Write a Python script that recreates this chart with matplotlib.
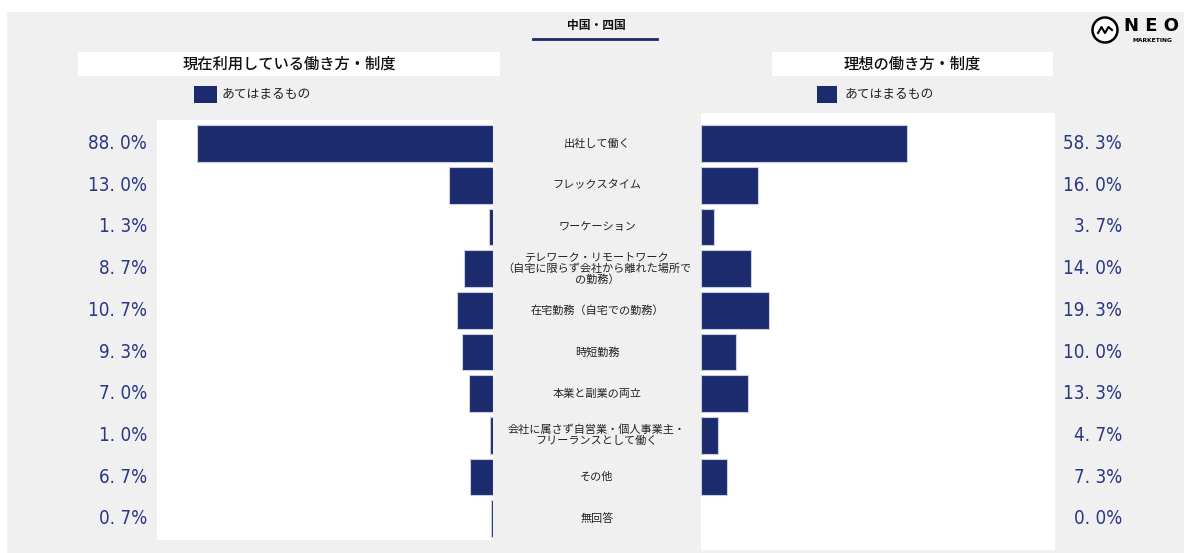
import matplotlib
matplotlib.use("Agg")
import matplotlib.pyplot as plt
import matplotlib.transforms as mtransforms
from matplotlib.patches import Rectangle, Circle
from matplotlib.lines import Line2D

plt.rcParams['font.family'] = ['Noto Sans CJK JP', 'DejaVu Sans']

##### DATA #####
categories = [
    "出社して働く",
    "フレックスタイム",
    "ワーケーション",
    "テレワーク・リモートワーク\n（自宅に限らず会社から離れた場所で\nの勤務）",
    "在宅勤務（自宅での勤務）",
    "時短勤務",
    "本業と副業の両立",
    "会社に属さず自営業・個人事業主・\nフリーランスとして働く",
    "その他",
    "無回答",
]
current_vals = [88.0, 13.0, 1.3, 8.7, 10.7, 9.3, 7.0, 1.0, 6.7, 0.7]
ideal_vals = [58.3, 16.0, 3.7, 14.0, 19.3, 10.0, 13.3, 4.7, 7.3, 0.0]

title = "中国・四国"
left_header = "現在利用している働き方・制度"
right_header = "理想の働き方・制度"
legend_label = "あてはまるもの"

navy = "#1c2a6e"
label_navy = "#2b3784"
bg = "#f0f0f0"

W, H = 1184, 553
fig = plt.figure(figsize=(W / 100, H / 100), dpi=100, facecolor='white')


def fx(px):
    return px / W


def fy(py):
    return 1 - py / H


def box(x0, y0, x1, y1, z=0, **kw):
    fig.patches.append(Rectangle((fx(x0), fy(y1)), fx(x1) - fx(x0), fy(y0) - fy(y1),
                                 transform=fig.transFigure, figure=fig, zorder=z, **kw))


# gray background panel
box(7, 12, W, H, z=-5, facecolor=bg, edgecolor='none')

# left / right plot areas
pitch = 41.7
c0 = 143.5
axl = fig.add_axes([fx(157), fy(540), fx(493) - fx(157), fy(120) - fy(540)], zorder=2)
axr = fig.add_axes([fx(701), fy(550), fx(1055) - fx(701), fy(113) - fy(550)], zorder=2)

rows = list(range(len(categories)))
axl.barh(rows, current_vals, height=0.88, color=navy, edgecolor='#c9cde0',
         linewidth=[0.8 if v > 0 else 0 for v in current_vals])
axr.barh(rows, ideal_vals, height=0.88, color=navy, edgecolor='#c9cde0',
         linewidth=[0.8 if v > 0 else 0 for v in ideal_vals])

axl.set_xlim(100, 0)
axl.set_ylim((540 - c0) / pitch, (120 - c0) / pitch)
axr.set_xlim(0, 100)
axr.set_ylim((550 - c0) / pitch, (113 - c0) / pitch)

for ax in (axl, axr):
    ax.set_facecolor('white')
    ax.set_xticks([])
    ax.set_yticks([])
    for s in ax.spines.values():
        s.set_visible(False)

# value labels
tl = mtransforms.blended_transform_factory(fig.transFigure, axl.transData)
tr = mtransforms.blended_transform_factory(fig.transFigure, axr.transData)
for i, v in enumerate(current_vals):
    s = f"{v:.1f}%".replace(".", ". ")
    fig.text(fx(147), i, s, transform=tl, ha='right', va='center', fontsize=13.5,
             color=label_navy, family=['DejaVu Sans'], fontstretch='condensed')
for i, v in enumerate(ideal_vals):
    s = f"{v:.1f}%".replace(".", ". ")
    fig.text(fx(1122), i, s, transform=tr, ha='right', va='center', fontsize=13.5,
             color=label_navy, family=['DejaVu Sans'], fontstretch='condensed')

# category labels in the middle
for i, c in enumerate(categories):
    fig.text(fx(597), i, c, transform=tl, ha='center', va='center',
             fontsize=8, color='#222222', linespacing=1.05)

# title with underline
fig.text(fx(596), fy(25), title, ha='center', va='center', fontsize=8.5,
         fontweight='bold', color='#111111')
fig.lines.append(Line2D([fx(533), fx(657)], [fy(38.5), fy(38.5)], transform=fig.transFigure,
                        color=navy, linewidth=2))

# header boxes
box(78, 52, 500, 76, z=1, facecolor='white', edgecolor='none')
box(772, 52, 1053, 76, z=1, facecolor='white', edgecolor='none')
fig.text(fx(289), fy(64), left_header, ha='center', va='center', fontsize=11,
         fontweight='medium', color='#111111')
fig.text(fx(912), fy(64), right_header, ha='center', va='center', fontsize=11,
         fontweight='medium', color='#111111')

# legends
box(194, 86, 217, 103, z=1, facecolor=navy, edgecolor='none')
fig.text(fx(222), fy(95), legend_label, ha='left', va='center', fontsize=9.2, color='#222222')
box(817, 86, 837, 103, z=1, facecolor=navy, edgecolor='none')
fig.text(fx(845), fy(95), legend_label, ha='left', va='center', fontsize=9.2, color='#222222')

# logo
fig.patches.append(Circle((1105 / 100, (H - 30) / 100), 0.125, transform=fig.dpi_scale_trans,
                          figure=fig, facecolor='white', edgecolor='black', linewidth=1.8,
                          zorder=1))
wave_x = [1098, 1101.5, 1105, 1108.5, 1112]
wave_y = [33, 27, 33, 27, 30]
fig.lines.append(Line2D([fx(x) for x in wave_x], [fy(y) for y in wave_y],
                        transform=fig.transFigure, color='black', linewidth=1.5, zorder=3))
fig.text(fx(1151), fy(26), "N E O", ha='center', va='center', fontsize=13,
         fontweight='bold', color='black', family=['DejaVu Sans'])
fig.text(fx(1152), fy(41), "MARKETING", ha='center', va='center', fontsize=4.3,
         fontweight='bold', color='black', family=['DejaVu Sans'])

fig.savefig("out.png", dpi=100, facecolor='white')
